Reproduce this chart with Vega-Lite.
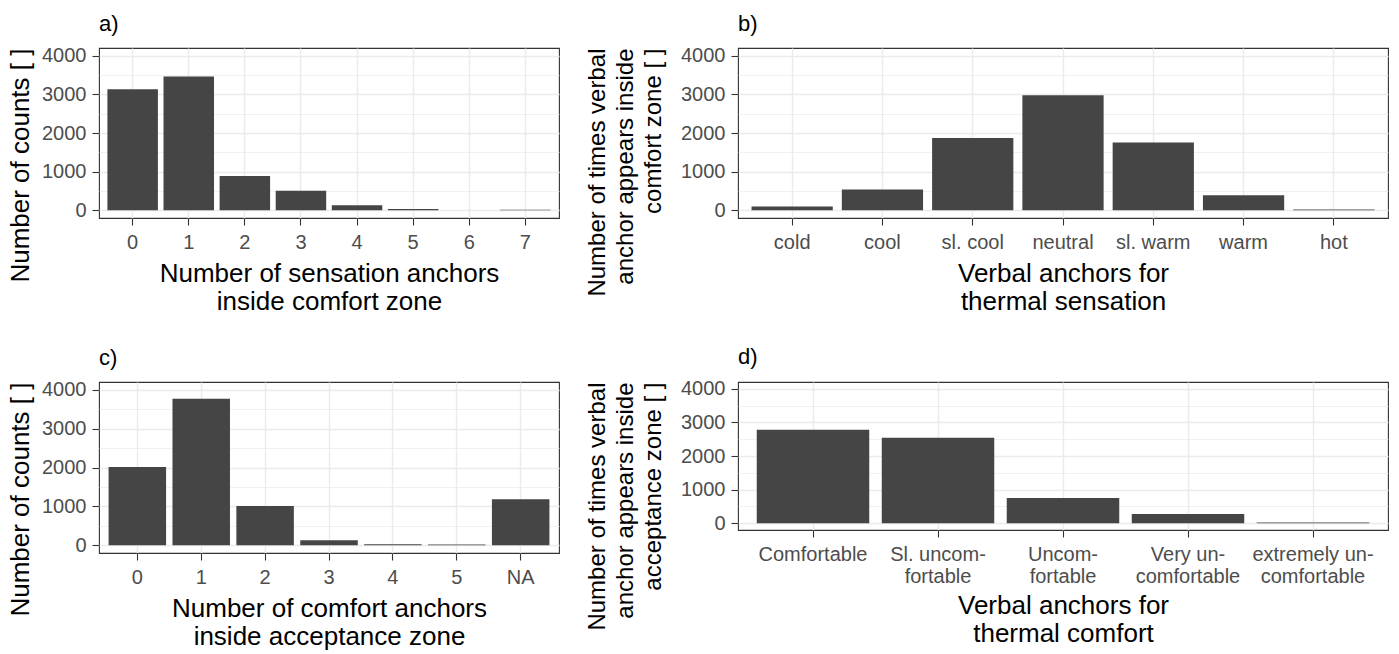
{
  "$schema": "https://vega.github.io/schema/vega-lite/v6.json",
  "background": "white",
  "padding": {"left": 6, "top": 12, "right": 5, "bottom": 2},
  "config": {
    "font": "Liberation Sans",
    "view": {"stroke": "#333333", "strokeWidth": 1.1},
    "axis": {"domain": false, "tickColor": "#333333", "tickWidth": 1.1, "tickSize": 7, "labelColor": "#4D4D4D", "labelFontSize": 20, "labelFont": "Liberation Sans", "titleFont": "Liberation Sans", "titleFontSize": 26, "titleFontWeight": "normal", "titleColor": "#000000", "gridColor": "#EBEBEB", "labelOverlap": false},
    "axisX": {"labelAngle": 0, "labelPadding": 7, "titlePadding": 8, "titleLineHeight": 28, "labelLineHeight": 22, "grid": true, "gridWidth": 1.4, "bandPosition": 0.5},
    "axisY": {"labelPadding": 6, "titlePadding": 8, "titleLineHeight": 28},
    "title": {"fontSize": 22, "fontWeight": "normal", "anchor": "start", "frame": "group", "offset": 10, "baseline": "alphabetic", "color": "#000000", "font": "Liberation Sans"}
  },
  "spacing": 30,
  "vconcat": [
    {
      "spacing": 24,
      "hconcat": [
        {
          "width": 460, "height": 170,
          "title": {"text": "a)"},
          "data": {"values": [
            {"anchors": "0", "count": 3130},
            {"anchors": "1", "count": 3460},
            {"anchors": "2", "count": 885},
            {"anchors": "3", "count": 505},
            {"anchors": "4", "count": 130},
            {"anchors": "5", "count": 35},
            {"anchors": "6", "count": 0},
            {"anchors": "7", "count": 12}
          ]},
          "mark": {"type": "bar", "color": "#454545"},
          "encoding": {
            "x": {"field": "anchors", "type": "nominal", "sort": null, "scale": {"paddingInner": 0.1, "paddingOuter": 0.15}, "axis": {"title": ["Number of sensation anchors", "inside comfort zone"]}},
            "y": {"field": "count", "type": "quantitative", "scale": {"domain": [-200, 4200], "nice": false, "zero": false},
              "axis": {"title": "Number of counts [ ]", "titleAnchor": "end", "values": [0, 500, 1000, 1500, 2000, 2500, 3000, 3500, 4000], "format": "d", "labelExpr": "datum.value % 1000 === 0 ? datum.label : ''", "tickOpacity": {"condition": {"test": "datum.value % 1000 === 0", "value": 1}, "value": 0}, "gridWidth": {"condition": {"test": "datum.value % 1000 === 0", "value": 1.4}, "value": 0.7}}}
          }
        },
        {
          "width": 650, "height": 170,
          "title": {"text": "b)"},
          "data": {"values": [
            {"anchor": "cold", "count": 100},
            {"anchor": "cool", "count": 539},
            {"anchor": "sl. cool", "count": 1870},
            {"anchor": "neutral", "count": 2974},
            {"anchor": "sl. warm", "count": 1757},
            {"anchor": "warm", "count": 390},
            {"anchor": "hot", "count": 17}
          ]},
          "mark": {"type": "bar", "color": "#454545"},
          "encoding": {
            "x": {"field": "anchor", "type": "nominal", "sort": null, "scale": {"paddingInner": 0.1, "paddingOuter": 0.15}, "axis": {"title": ["Verbal anchors for", "thermal sensation"]}},
            "y": {"field": "count", "type": "quantitative", "scale": {"domain": [-200, 4200], "nice": false, "zero": false},
              "axis": {"title": ["Number of times verbal", "anchor appears inside", "comfort zone [ ]"], "titleFontSize": 24, "titlePadding": 15, "titleAnchor": "end", "values": [0, 500, 1000, 1500, 2000, 2500, 3000, 3500, 4000], "format": "d", "labelExpr": "datum.value % 1000 === 0 ? datum.label : ''", "tickOpacity": {"condition": {"test": "datum.value % 1000 === 0", "value": 1}, "value": 0}, "gridWidth": {"condition": {"test": "datum.value % 1000 === 0", "value": 1.4}, "value": 0.7}}}
          }
        }
      ]
    },
    {
      "spacing": 24,
      "hconcat": [
        {
          "width": 460, "height": 171,
          "title": {"text": "c)"},
          "data": {"values": [
            {"anchors": "0", "count": 2013},
            {"anchors": "1", "count": 3767},
            {"anchors": "2", "count": 1011},
            {"anchors": "3", "count": 130},
            {"anchors": "4", "count": 26},
            {"anchors": "5", "count": 17},
            {"anchors": "NA", "count": 1184}
          ]},
          "mark": {"type": "bar", "color": "#454545"},
          "encoding": {
            "x": {"field": "anchors", "type": "nominal", "sort": null, "scale": {"paddingInner": 0.1, "paddingOuter": 0.15}, "axis": {"title": ["Number of comfort anchors", "inside acceptance zone"]}},
            "y": {"field": "count", "type": "quantitative", "scale": {"domain": [-200, 4200], "nice": false, "zero": false},
              "axis": {"title": "Number of counts [ ]", "titleAnchor": "end", "values": [0, 500, 1000, 1500, 2000, 2500, 3000, 3500, 4000], "format": "d", "labelExpr": "datum.value % 1000 === 0 ? datum.label : ''", "tickOpacity": {"condition": {"test": "datum.value % 1000 === 0", "value": 1}, "value": 0}, "gridWidth": {"condition": {"test": "datum.value % 1000 === 0", "value": 1.4}, "value": 0.7}}}
          }
        },
        {
          "width": 650, "height": 148,
          "title": {"text": "d)"},
          "data": {"values": [
            {"anchor": "Comfortable", "count": 2783},
            {"anchor": "Sl. uncomfortable", "count": 2544},
            {"anchor": "Uncomfortable", "count": 748},
            {"anchor": "Very uncomfortable", "count": 279},
            {"anchor": "extremely uncomfortable", "count": 20}
          ]},
          "mark": {"type": "bar", "color": "#454545"},
          "encoding": {
            "x": {"field": "anchor", "type": "nominal", "sort": null, "scale": {"paddingInner": 0.1, "paddingOuter": 0.15},
              "axis": {"title": ["Verbal anchors for", "thermal comfort"], "titlePadding": 6, "labelExpr": "datum.value == 'Sl. uncomfortable' ? ['Sl. uncom-', 'fortable'] : datum.value == 'Uncomfortable' ? ['Uncom-', 'fortable'] : datum.value == 'Very uncomfortable' ? ['Very un-', 'comfortable'] : datum.value == 'extremely uncomfortable' ? ['extremely un-', 'comfortable'] : datum.label"}},
            "y": {"field": "count", "type": "quantitative", "scale": {"domain": [-200, 4200], "nice": false, "zero": false},
              "axis": {"title": ["Number of times verbal", "anchor appears inside", "acceptance zone [ ]"], "titleFontSize": 24, "titlePadding": 15, "titleAnchor": "end", "values": [0, 500, 1000, 1500, 2000, 2500, 3000, 3500, 4000], "format": "d", "labelExpr": "datum.value % 1000 === 0 ? datum.label : ''", "tickOpacity": {"condition": {"test": "datum.value % 1000 === 0", "value": 1}, "value": 0}, "gridWidth": {"condition": {"test": "datum.value % 1000 === 0", "value": 1.4}, "value": 0.7}}}
          }
        }
      ]
    }
  ]
}
